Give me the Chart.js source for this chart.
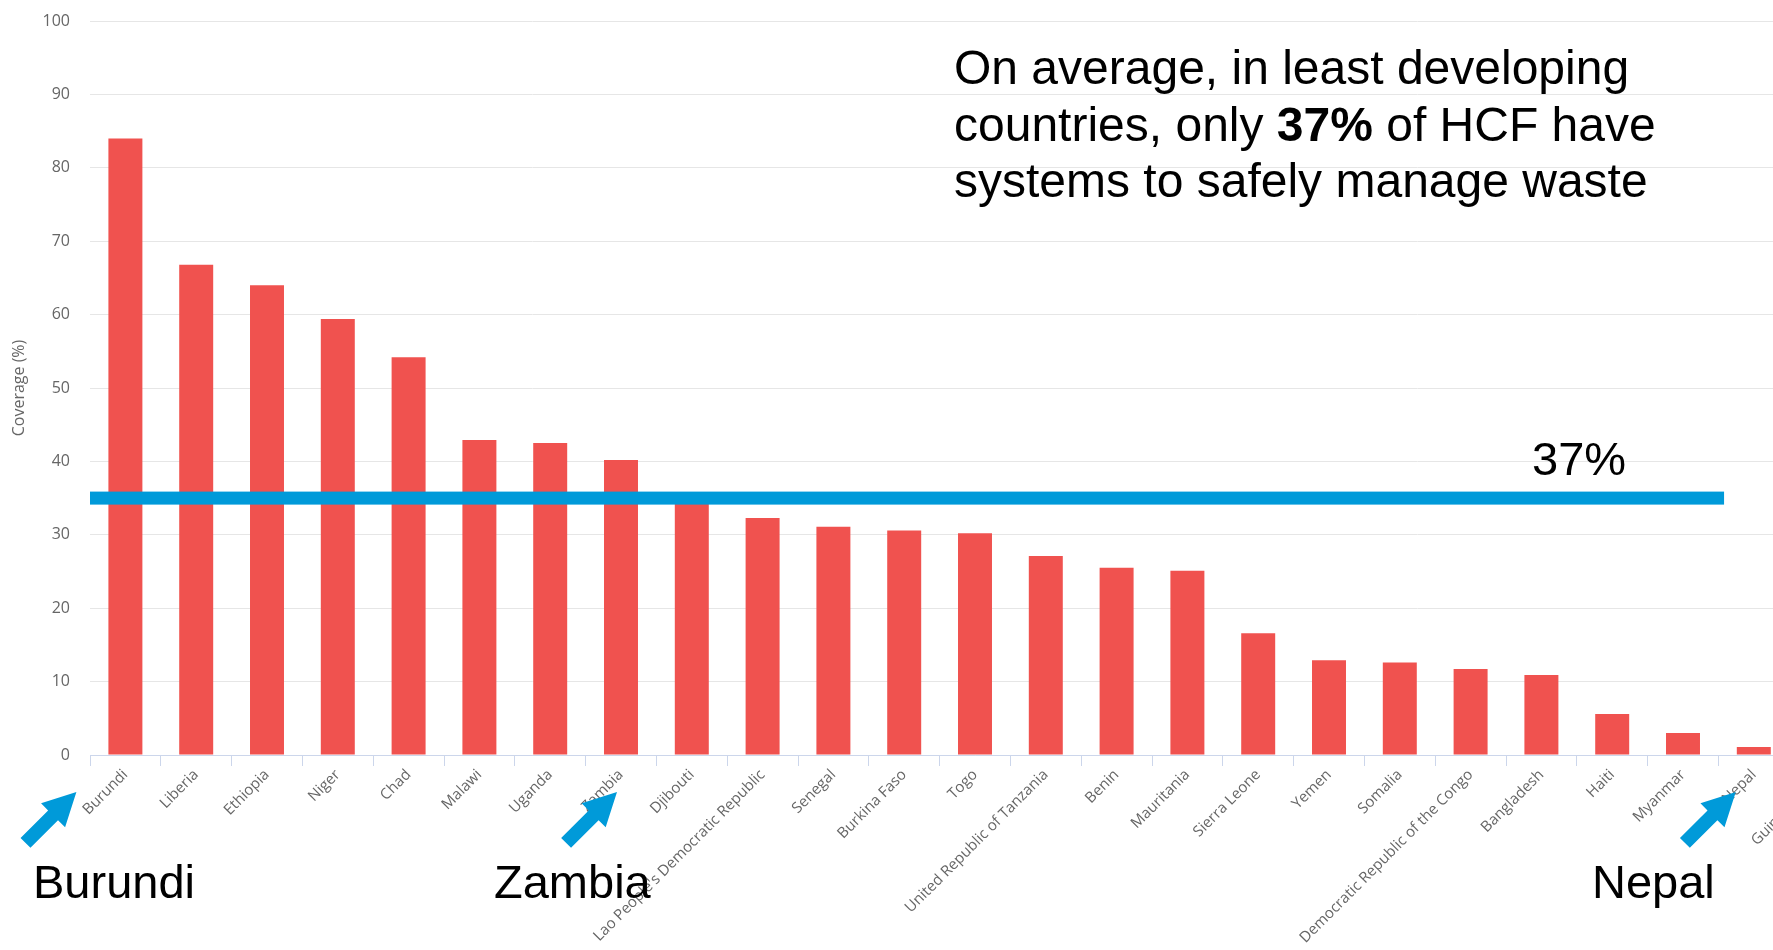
<!DOCTYPE html>
<html>
<head>
<meta charset="utf-8">
<script src="https://cdn.jsdelivr.net/npm/chart.js@4.4.1/dist/chart.umd.min.js"></script>
<style>
    html, body { margin: 0; padding: 0; background: #fff; overflow: hidden; }
    #wrap { width: 1880px; height: 950px; position: relative; }
</style>
</head>
<body>
<div id="wrap"><canvas id="coverageChart"></canvas></div>
<script>
/* ===========================
   DATOS
=========================== */

const countries = [
    "Burundi", "Liberia", "Ethiopia", "Niger", "Chad", "Malawi", "Uganda", "Zambia",
    "Djibouti", "Lao People's Democratic Republic", "Senegal", "Burkina Faso", "Togo",
    "United Republic of Tanzania", "Benin", "Mauritania", "Sierra Leone", "Yemen",
    "Somalia", "Democratic Republic of the Congo", "Bangladesh", "Haiti", "Myanmar",
    "Nepal", "Guinea-Bissau"
];

const coverage = [
    84.0, 66.8, 64.0, 59.4, 54.2, 42.9, 42.5, 40.2,
    35.2, 32.3, 31.1, 30.6, 30.2,
    27.1, 25.5, 25.1, 16.6, 12.9,
    12.6, 11.7, 10.9, 5.6, 3.0,
    1.1, 0.6
];

const yMin = 0;
const yMax = 100;
const yStep = 10;

const averageLevel = 35;
const averageLabel = "37%";
const averageEndIndex = 22.58;

const highlighted = ["Burundi", "Zambia", "Nepal"];

/* ===========================
   ESTILOS
=========================== */

const BAR_RED = "#f0524f";
const BLUE = "#009ad9";
const AXIS_GREY = "#666666";
const BIG_FONT = "'Liberation Sans', Arial, sans-serif";

// posiciones de las flechas respecto al centro de cada categoría
const arrowOffsets = { "Burundi": -49, "Zambia": -4, "Nepal": -18 };
const labelLeft = { "Burundi": 33, "Zambia": 494, "Nepal": 1592 };

function drawArrow(ctx, tipX, tipY) {
    const len = 72, headLen = 33, headHalf = 17, shaftHalf = 7;
    ctx.save();
    ctx.translate(tipX, tipY);
    ctx.rotate(-Math.PI / 4);
    // punta en (0,0), cola hacia -x
    ctx.beginPath();
    ctx.moveTo(0, 0);
    ctx.lineTo(-headLen, -headHalf);
    ctx.lineTo(-headLen, -shaftHalf);
    ctx.lineTo(-len, -shaftHalf);
    ctx.lineTo(-len, shaftHalf);
    ctx.lineTo(-headLen, shaftHalf);
    ctx.lineTo(-headLen, headHalf);
    ctx.closePath();
    ctx.fillStyle = BLUE;
    ctx.fill();
    ctx.restore();
}

const annotations = {
    id: "annotations",
    afterDatasetsDraw(chart) {
        const { ctx, chartArea, scales: { x, y } } = chart;
        const yPix = y.getPixelForValue(averageLevel);
        const xEnd = x.getPixelForValue(averageEndIndex);
        ctx.save();
        ctx.fillStyle = BLUE;
        ctx.fillRect(chartArea.left, yPix - 6.5, xEnd - chartArea.left, 13);

        ctx.fillStyle = "#000";
        ctx.font = "47px " + BIG_FONT;
        ctx.textBaseline = "alphabetic";
        ctx.fillText(averageLabel, 1532, yPix - 23);
        ctx.restore();
    },
    afterDraw(chart) {
        const { ctx, scales: { x } } = chart;
        ctx.save();

        // texto principal
        const left = 954;
        const big = "48px " + BIG_FONT;
        ctx.fillStyle = "#000";
        ctx.textBaseline = "alphabetic";
        ctx.font = big;
        ctx.fillText("On average, in least developing", left, 84);

        let cx = left;
        const parts = [["countries, only ", false], ["37%", true], [" of HCF have", false]];
        parts.forEach(([t, bold]) => {
            ctx.font = (bold ? "bold " : "") + big;
            ctx.fillText(t, cx, 140.5);
            cx += ctx.measureText(t).width;
        });
        ctx.font = big;
        ctx.fillText("systems to safely manage waste", left, 197);

        // flechas y nombres
        highlighted.forEach(name => {
            const i = countries.indexOf(name);
            const cxPix = x.getPixelForValue(i);
            drawArrow(ctx, cxPix + arrowOffsets[name], 792);
            ctx.fillStyle = "#000";
            ctx.font = "47px " + BIG_FONT;
            ctx.fillText(name, labelLeft[name], 898);
        });
        ctx.restore();
    }
};

/* ===========================
   GRÁFICO
=========================== */

const ctx = document.getElementById("coverageChart").getContext("2d");

new Chart(ctx, {
    type: "bar",
    data: {
        labels: countries,
        datasets: [{
            label: "Coverage (%)",
            data: coverage,
            backgroundColor: BAR_RED,
            borderWidth: 0,
            categoryPercentage: 1,
            barPercentage: 0.48
        }]
    },
    options: {
        responsive: true,
        maintainAspectRatio: false,
        devicePixelRatio: 1,
        animation: false,
        events: [],
        layout: { padding: { top: 21, right: 20, left: 0, bottom: 0 } },
        plugins: {
            legend: { display: false },
            tooltip: { enabled: false }
        },
        scales: {
            x: {
                grid: {
                    drawOnChartArea: false,
                    drawTicks: true,
                    tickLength: 11,
                    color: "#ccd6eb",
                    offset: true
                },
                border: { color: "#ccd6eb" },
                ticks: {
                    autoSkip: false,
                    minRotation: 45,
                    maxRotation: 45,
                    color: AXIS_GREY,
                    padding: 0,
                    font: { family: "'Open Sans', sans-serif", size: 15 }
                },
                afterFit(scale) {
                    scale.height = 195;
                    scale.paddingLeft = 0;
                    scale.paddingRight = 0;
                    scale.paddingTop = 0;
                    scale.paddingBottom = 0;
                }
            },
            y: {
                min: yMin,
                max: yMax,
                ticks: {
                    stepSize: yStep,
                    color: AXIS_GREY,
                    padding: 20,
                    font: { family: "'Open Sans', sans-serif", size: 16 }
                },
                grid: { color: "#e6e6e6", drawTicks: false },
                border: { display: false },
                title: {
                    display: true,
                    text: "Coverage (%)",
                    color: AXIS_GREY,
                    padding: { top: 10, bottom: 0 },
                    font: { family: "'Open Sans', sans-serif", size: 16 }
                },
                afterFit(scale) {
                    scale.width = 90;
                    scale.paddingTop = 0;
                    scale.paddingBottom = 0;
                }
            }
        }
    },
    plugins: [annotations]
});
</script>
</body>
</html>
